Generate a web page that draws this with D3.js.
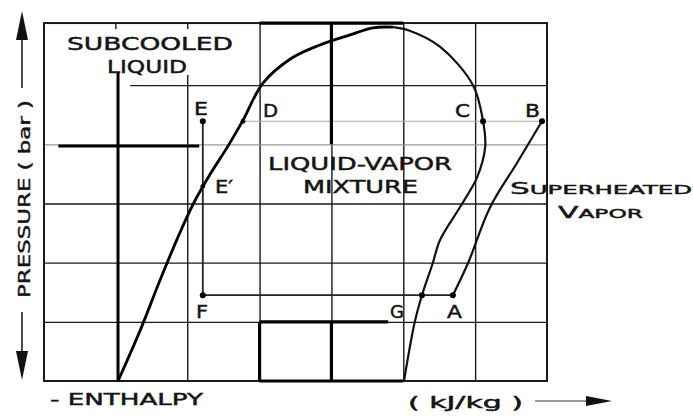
<!DOCTYPE html>
<html>
<head>
<meta charset="utf-8">
<script src="https://cdn.jsdelivr.net/npm/d3@7"></script>
<style>
  html, body { margin: 0; padding: 0; background: #fff; }
  svg { display: block; }
  text { font-family: "DejaVu Sans", sans-serif; fill: #151515; stroke: #151515; stroke-width: 0.45; }
</style>
</head>
<body>
<div id="chart"></div>
<script>
// Grid (enthalpy / pressure units, one unit per grid cell)
const gridH = [3, 4, 5, 6];
const gridHLow = [2];
const gridP = [1, 2, 3, 4, 5];
const frameH = [0, 7];
const frameP = [0, 6.05];
const topTicks = [1, 2];

// Saturation dome, left (liquid) to right (vapor)
const domeH = [1.03, 1.34, 1.60, 1.86, 2.08, 2.32, 2.56, 2.77, 3.05, 3.45, 3.84, 4.26, 4.58, 4.86, 5.09, 5.51, 5.97, 6.11, 6.14, 6.03, 5.79, 5.51, 5.41, 5.26, 5.16, 5.01];
const domeP = [0, 0.86, 1.66, 2.42, 3.0, 3.51, 3.97, 4.41, 5.04, 5.46, 5.68, 5.85, 5.97, 5.98, 5.92, 5.65, 5.0, 4.39, 3.96, 3.45, 2.94, 2.38, 1.99, 1.45, 1.0, 0];

// Compression line B -> A
const compH = [6.93, 6.58, 6.21, 5.9, 5.69];
const compP = [4.39, 3.68, 2.94, 1.99, 1.45];

// Cycle points
const pointNames = ["E", "E'", "D", "F", "G", "A", "C", "B"];
const pointH = [2.21, 2.21, 2.77, 2.21, 5.26, 5.69, 6.11, 6.93];
const pointP = [4.39, 3.29, 4.39, 1.45, 1.45, 1.45, 4.39, 4.39];

// Subcooled liquid lines
const subVertH = [1.03, 1.03];
const subVertP = [0, 5.22];
const subHorzH = [0.2, 2.16];
const subHorzP = [3.97, 3.97];

const width = 693;
const height = 419;

const x = d3.scaleLinear().domain([0, 7]).range([44, 547]);
const y = d3.scaleLinear().domain([0, 6]).range([381, 26]);

const svg = d3.select("#chart")
  .append("svg")
  .attr("width", width)
  .attr("height", height);

const ink = "#1a1a1a";

// --- grid
const plotTop = y(frameP[1]);
const plotBottom = y(frameP[0]);

const xGrid = svg.append("g")
  .attr("transform", `translate(0,${plotBottom})`)
  .call(d3.axisBottom(x).tickValues(gridH).tickSize(-(plotBottom - plotTop)).tickFormat(""));
xGrid.select(".domain").remove();
xGrid.selectAll("line").attr("stroke", ink).attr("stroke-width", 1.4);

// column at H=2 only appears below the liquid label
svg.append("g")
  .selectAll("line")
  .data(gridHLow)
  .join("line")
  .attr("x1", d => x(d)).attr("x2", d => x(d))
  .attr("y1", y(5.17)).attr("y2", plotBottom)
  .attr("stroke", ink).attr("stroke-width", 1.4);

const yGrid = svg.append("g")
  .attr("transform", `translate(${x(frameH[0])},0)`)
  .call(d3.axisLeft(y).tickValues(gridP).tickSize(-(x(frameH[1]) - x(frameH[0]))).tickFormat(""));
yGrid.select(".domain").remove();
yGrid.selectAll("line")
  .attr("stroke", d => d === 4 ? "#999" : ink)
  .attr("stroke-width", d => d === 4 ? 1.1 : 1.4);
// the P=5 line starts a little inside the frame
yGrid.selectAll("line")
  .filter(d => d === 5)
  .attr("x1", x(1.2) - x(0));

// faint high pressure line D -> B
svg.append("line")
  .attr("x1", x(pointH[2])).attr("x2", x(pointH[7]))
  .attr("y1", y(pointP[2])).attr("y2", y(pointP[7]))
  .attr("stroke", "#aaa").attr("stroke-width", 1);

// frame
svg.append("rect")
  .attr("x", x(frameH[0]))
  .attr("y", plotTop)
  .attr("width", x(frameH[1]) - x(frameH[0]))
  .attr("height", plotBottom - plotTop)
  .attr("fill", "none")
  .attr("stroke", ink)
  .attr("stroke-width", 2);

// small ticks on the top frame
svg.append("g")
  .selectAll("line")
  .data(topTicks)
  .join("line")
  .attr("x1", d => x(d)).attr("x2", d => x(d))
  .attr("y1", plotTop).attr("y2", plotTop + 6)
  .attr("stroke", ink).attr("stroke-width", 1.4);

// heavier segments of the printed grid
const heavy = [
  [[3, 0], [5, 0]],
  [[3, 0], [3, 1]],
  [[4, 0], [4, 1]],
  [[3, 1], [4.79, 1]],
  [[3, frameP[1]], [5, frameP[1]]],
  [[4, frameP[1]], [4, 4]]
];
svg.append("g")
  .selectAll("line")
  .data(heavy)
  .join("line")
  .attr("x1", d => x(d[0][0])).attr("y1", d => y(d[0][1]))
  .attr("x2", d => x(d[1][0])).attr("y2", d => y(d[1][1]))
  .attr("stroke", "#000")
  .attr("stroke-width", 3.2);

// --- subcooled liquid lines
const pair = (hs, ps) => hs.map((h, i) => [h, ps[i]]);
const straight = d3.line().x(d => x(d[0])).y(d => y(d[1]));

svg.append("path")
  .attr("d", straight(pair(subVertH, subVertP)))
  .attr("stroke", "#000").attr("stroke-width", 3).attr("fill", "none");
svg.append("path")
  .attr("d", straight(pair(subHorzH, subHorzP)))
  .attr("stroke", "#000").attr("stroke-width", 3).attr("fill", "none");

// --- dome
const smooth = d3.line()
  .x(d => x(d[0]))
  .y(d => y(d[1]))
  .curve(d3.curveCatmullRom.alpha(0.5));

const dome = pair(domeH, domeP);
const peak = 13;
svg.append("path")
  .attr("d", smooth(dome.slice(0, peak + 1)))
  .attr("fill", "none").attr("stroke", "#000").attr("stroke-width", 2.8);
svg.append("path")
  .attr("d", smooth(dome.slice(peak)))
  .attr("fill", "none").attr("stroke", "#111").attr("stroke-width", 2.2);

// --- compression B -> A
svg.append("path")
  .attr("d", smooth(pair(compH, compP)))
  .attr("fill", "none").attr("stroke", "#111").attr("stroke-width", 2.2);

// --- E -> F and F -> A
svg.append("path")
  .attr("d", straight([[pointH[0], pointP[0]], [pointH[3], pointP[3]], [pointH[5], pointP[5]]]))
  .attr("fill", "none").attr("stroke", "#222").attr("stroke-width", 1.8);

// points
svg.append("g")
  .selectAll("circle")
  .data(pointNames)
  .join("circle")
  .attr("cx", (d, i) => x(pointH[i]))
  .attr("cy", (d, i) => y(pointP[i]))
  .attr("r", (d, i) => (d === "E'" || d === "D") ? 2.4 : 3)
  .attr("fill", "#000");

// --- labels
function label(txt, lx, ly, size, len) {
  const t = svg.append("text")
    .attr("x", lx).attr("y", ly)
    .attr("font-size", size)
    .text(txt);
  if (len) t.attr("textLength", len).attr("lengthAdjust", "spacingAndGlyphs");
  return t;
}

label("SUBCOOLED", 67, 50, 17, 166);
label("LIQUID", 107, 73, 17, 80);
label("E", 194, 115, 17, 14);
label("D", 263, 117, 17, 15);
label("E\u2032", 215, 193, 17, 18);
label("LIQUID-VAPOR", 268, 170, 17, 184);
label("MIXTURE", 303, 193, 17, 115);
label("C", 455, 117, 17, 15);
label("B", 525, 117, 17, 15);
label("F", 196, 318, 17, 12);
label("G", 390, 318, 17, 14);
label("A", 447, 318, 17, 15);

// small caps labels
function smallCaps(first, rest, lx, ly, len) {
  const t = svg.append("text")
    .attr("x", lx).attr("y", ly)
    .attr("textLength", len)
    .attr("lengthAdjust", "spacingAndGlyphs");
  t.append("tspan").attr("font-size", 16).text(first);
  t.append("tspan").attr("font-size", 12.5).text(rest);
}
smallCaps("S", "UPERHEATED", 510, 194, 182);
smallCaps("V", "APOR", 558, 218, 85);

// x axis title
label("- ENTHALPY", 50, 405, 16, 153);
label("( kJ/kg    )", 408, 408, 15, 115);

svg.append("line")
  .attr("x1", 535).attr("x2", 592)
  .attr("y1", 401).attr("y2", 401)
  .attr("stroke", "#333").attr("stroke-width", 1.2);
svg.append("path")
  .attr("d", "M586,396 L612,401 L586,406 Z")
  .attr("fill", "#111");

// y axis title with arrows
svg.append("text")
  .attr("transform", "translate(30,298) rotate(-90)")
  .attr("font-size", 16)
  .attr("textLength", 198)
  .attr("lengthAdjust", "spacingAndGlyphs")
  .text("PRESSURE ( bar )");

svg.append("line")
  .attr("x1", 22).attr("x2", 22)
  .attr("y1", 88).attr("y2", 36)
  .attr("stroke", "#111").attr("stroke-width", 1.5);
svg.append("path")
  .attr("d", "M22,11 L28,40 L16,40 Z")
  .attr("fill", "#111");

svg.append("line")
  .attr("x1", 22).attr("x2", 22)
  .attr("y1", 312).attr("y2", 355)
  .attr("stroke", "#111").attr("stroke-width", 1.5);
svg.append("path")
  .attr("d", "M22,380 L28,351 L16,351 Z")
  .attr("fill", "#111");
</script>
</body>
</html>
